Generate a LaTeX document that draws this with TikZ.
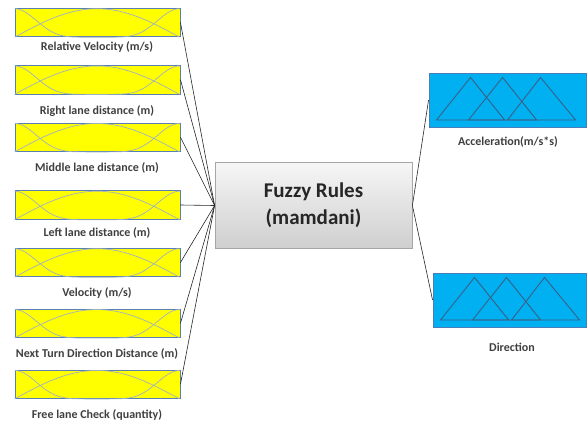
\documentclass[tikz,border=0pt]{standalone}
\usepackage{fontspec}
\setmainfont{Carlito}
\usetikzlibrary{shadings}
\definecolor{mfyellow}{HTML}{FFFF00}
\definecolor{mfedge}{HTML}{5A7FB0}
\definecolor{mfcurve}{HTML}{9FB2C2}
\definecolor{outblue}{HTML}{00B0F0}
\definecolor{outedge}{HTML}{4A7EBB}
\definecolor{tri}{HTML}{3A6089}
\definecolor{labelgray}{HTML}{3F3F3F}
\tikzset{
  inbox/.style={draw=mfedge, line width=0.9pt, fill=mfyellow,
    minimum width=165pt, minimum height=28.5pt, inner sep=0pt},
  outbox/.style={draw=outedge, line width=0.9pt, fill=outblue,
    minimum height=54pt, inner sep=0pt},
  mf/.style={mfcurve, line width=0.7pt},
  trimf/.style={tri, line width=0.9pt, line join=miter},
  rules/.style={draw=gray!70, line width=0.8pt,
    top color=gray!7, bottom color=gray!38,
    minimum width=197pt, minimum height=85.5pt, inner sep=0pt,
    align=center, font=\fontsize{21}{27}\selectfont\bfseries, text=black!85},
  lbl/.style={font=\fontsize{12}{14}\selectfont\bfseries, text=labelgray, inner sep=0pt},
  link/.style={draw=black!85, line width=0.6pt}
}
\begin{document}
\begin{tikzpicture}[x=1pt, y=-1pt]
  \useasboundingbox (0,0) rectangle (587,426);

  % input variables
  \node[inbox] (in1) at (97.5,22.5) {};
  \node[inbox] (in2) at (97.5,79.7) {};
  \node[inbox] (in3) at (97.5,137.2) {};
  \node[inbox] (in4) at (97.5,205) {};
  \node[inbox] (in5) at (97.5,262.5) {};
  \node[inbox] (in6) at (97.5,323.3) {};
  \node[inbox] (in7) at (97.5,384.2) {};

  % membership functions drawn inside each input box
  \foreach \i in {1,...,7} {
    \begin{scope}[shift={(in\i.south west)}, x=165pt, y=28.5pt]
      \draw[mf] plot[domain=0:0.5, samples=40, smooth] (\x, {(cos(180*\x))^6});
      \draw[mf] plot[domain=0:1, samples=60, smooth] (\x, {sin(180*\x)});
      \draw[mf] plot[domain=0.5:1, samples=40, smooth] (\x, {(cos(180*\x))^6});
    \end{scope}
  }

  \node[lbl] (l1) at (97,47) {Relative Velocity (m/s)};
  \node[lbl] (l2) at (97,111) {Right lane distance (m)};
  \node[lbl] (l3) at (97,168) {Middle lane distance (m)};
  \node[lbl] (l4) at (97,233) {Left lane distance (m)};
  \node[lbl] (l5) at (97,293) {Velocity (m/s)};
  \node[lbl] (l6) at (97,354) {Next Turn Direction Distance (m)};
  \node[lbl] (l7) at (97,415) {Free lane Check (quantity)};

  % rule block
  \node[rules] (fr) at (313.5,205.5) {Fuzzy Rules\\(mamdani)};

  % output variables
  \node[outbox, minimum width=157pt] (acc) at (507.5,100) {};
  \node[outbox, minimum width=153pt] (dir) at (509.5,300) {};
  \foreach \o in {acc,dir} {
    \begin{scope}[shift={(\o.south west)}, x=1pt, y=1pt]
      \draw[trimf] (8,7.5) -- (42,50) -- (76,7.5) -- cycle;
      \draw[trimf] (40,7.5) -- (74,50) -- (108,7.5) -- cycle;
      \draw[trimf] (79,7.5) -- (112,50) -- (147,7.5) -- cycle;
    \end{scope}
  }
  \node[lbl] (lacc) at (508,142) {Acceleration(m/s*s)};
  \node[lbl] (ldir) at (512,347) {Direction};

  % connectors
  \foreach \i in {1,...,7} \draw[link] (in\i.east) -- (fr.west);
  \draw[link] (fr.east) -- (acc.west);
  \draw[link] (fr.east) -- (dir.west);
\end{tikzpicture}
\end{document}
